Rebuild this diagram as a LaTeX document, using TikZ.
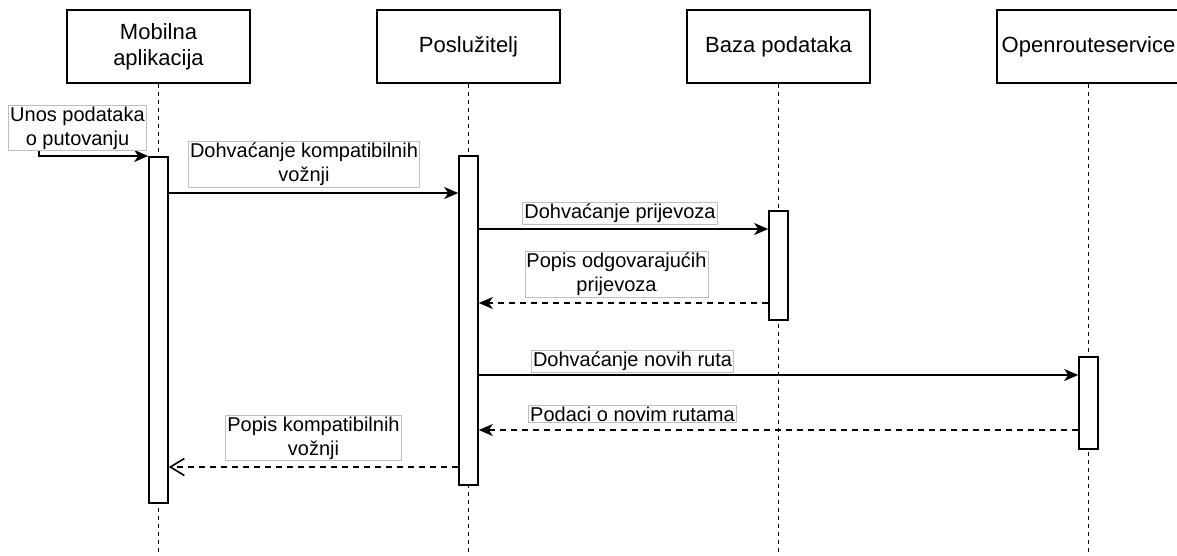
\documentclass[tikz,border=0pt]{standalone}
\usepackage{fontspec}
\setmainfont{Liberation Sans}
\usetikzlibrary{arrows.meta}
\begin{document}
\begin{tikzpicture}[
    x=1pt,y=-1pt,
    head/.style={draw=black,line width=1.8pt,minimum width=183pt,minimum height=73pt,align=center,font=\fontsize{22}{26}\selectfont},
    act/.style={draw=black,fill=white,line width=1.6pt,minimum width=19pt,inner sep=0pt},
    life/.style={line width=1.4pt,dash pattern=on 4pt off 4pt},
    msg/.style={line width=1.8pt,-{Stealth[length=14pt,width=12pt,inset=4pt]}},
    reply/.style={line width=1.6pt,dash pattern=on 6pt off 5pt,-{Stealth[length=14pt,width=12pt,inset=4pt]}},
    lbl/.style={draw=black!25,fill=white,line width=0.8pt,align=center,inner sep=1.5pt,font=\fontsize{20}{24}\selectfont}
]
    \useasboundingbox (0,0) rectangle (1177,555);
    % sudionici
    \node[head] (mob) at (158.5,46.5) {Mobilna\\aplikacija};
    \node[head] (srv) at (468.5,46.5) {Poslužitelj};
    \node[head] (db) at (778.5,46.5) {Baza podataka};
    \node[head] (ors) at (1088.5,46.5) {Openrouteservice};
    \foreach \n in {mob,srv,db,ors}
        \draw[life] (\n.south) -- (\n.south |- 0,555);
    % aktivacije
    \node[act,minimum height=346pt] (amob) at (158.5,330) {};
    \node[act,minimum height=329pt] (asrv) at (468.5,320.5) {};
    \node[act,minimum height=109pt] (adb) at (778.5,265.5) {};
    \node[act,minimum height=92pt] (aors) at (1088.5,403) {};
    % poruke
    \coordinate (in) at (39,150);
    \draw[msg] (in) |- (amob.west |- 0,156);
    \draw[msg] (amob.east |- 0,193) -- (asrv.west |- 0,193);
    \draw[msg] (asrv.east |- 0,229) -- (adb.west |- 0,229);
    \draw[reply] (adb.west |- 0,303) -- (asrv.east |- 0,303);
    \draw[msg] (asrv.east |- 0,375) -- (aors.west |- 0,375);
    \draw[reply] (aors.west |- 0,430) -- (asrv.east |- 0,430);
    \draw[reply,-{Straight Barb[length=14pt,width=17pt]}] (asrv.west |- 0,467) -- (amob.east |- 0,467);
    % oznake
    \node[lbl] (lin) at (77.5,128) {Unos podataka\\o putovanju};
    \node[lbl] (lkomp) at (304,164) {Dohvaćanje kompatibilnih\\vožnji};
    \node[lbl] (lprij) at (620,213.5) {Dohvaćanje prijevoza};
    \node[lbl] (lodg) at (616.5,274) {Popis odgovarajućih\\prijevoza};
    \node[lbl] (lrute) at (632.5,361.5) {Dohvaćanje novih ruta};
    \node[lbl] (lpod) at (632.5,414) {Podaci o novim rutama};
    \node[lbl] (lpopis) at (313.5,438) {Popis kompatibilnih\\vožnji};
\end{tikzpicture}
\end{document}
